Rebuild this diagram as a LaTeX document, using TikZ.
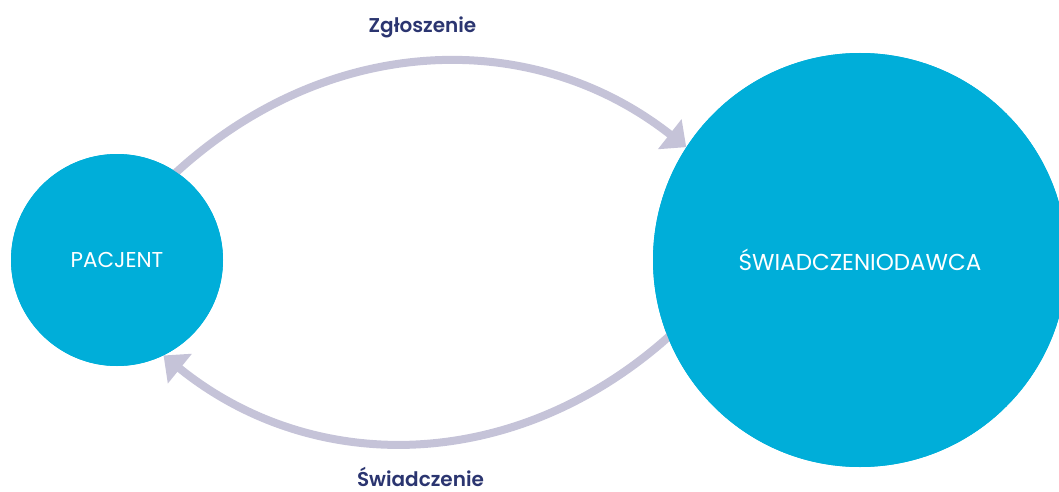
\documentclass[tikz,border=0pt]{standalone}
\usepackage{fontspec}
\setmainfont{Poppins}
\newfontfamily\labelfont{Poppins SemiBold}
\usetikzlibrary{arrows.meta}
\definecolor{cyanfill}{RGB}{0,174,217}
\definecolor{flowcol}{RGB}{197,195,216}
\definecolor{navy}{RGB}{43,53,112}
\begin{document}
\begin{tikzpicture}[x=1pt,y=1pt,
  party/.style={circle,fill=cyanfill,inner sep=0pt,text=white,font=\fontsize{21.5}{24}\selectfont},
  flow/.style={draw=flowcol,line width=8pt,-{Triangle[length=21pt,width=37pt]},shorten <=-12pt},
  lbl/.style={text=navy,anchor=base,font=\fontsize{20}{24}\labelfont}]
\useasboundingbox (0,0) rectangle (1059,491);
\clip (0,0) rectangle (1059,491);
\coordinate (pc) at (117,231);
\coordinate (sc) at (860,231);
\path (pc) node[party,minimum size=212pt] (pac) {};
\path (sc) node[party,minimum size=414pt] (swi) {};
\draw[flow] (pac.56.6) to[bend left=41] (swi.147.7);
\draw[flow] (swi.202.1) to[bend left=41] (pac.-64.9);
\path (pc) node[party,minimum size=212pt] (pacj) {PACJENT};
\path (sc) node[party,minimum size=414pt,font=\fontsize{23}{26}\selectfont] (swiad) {ŚWIADCZENIODAWCA};
\node[lbl] (zg) at (422.5,458) {Zgłoszenie};
\node[lbl] (sw) at (420.5,5) {Świadczenie};
\end{tikzpicture}
\end{document}
